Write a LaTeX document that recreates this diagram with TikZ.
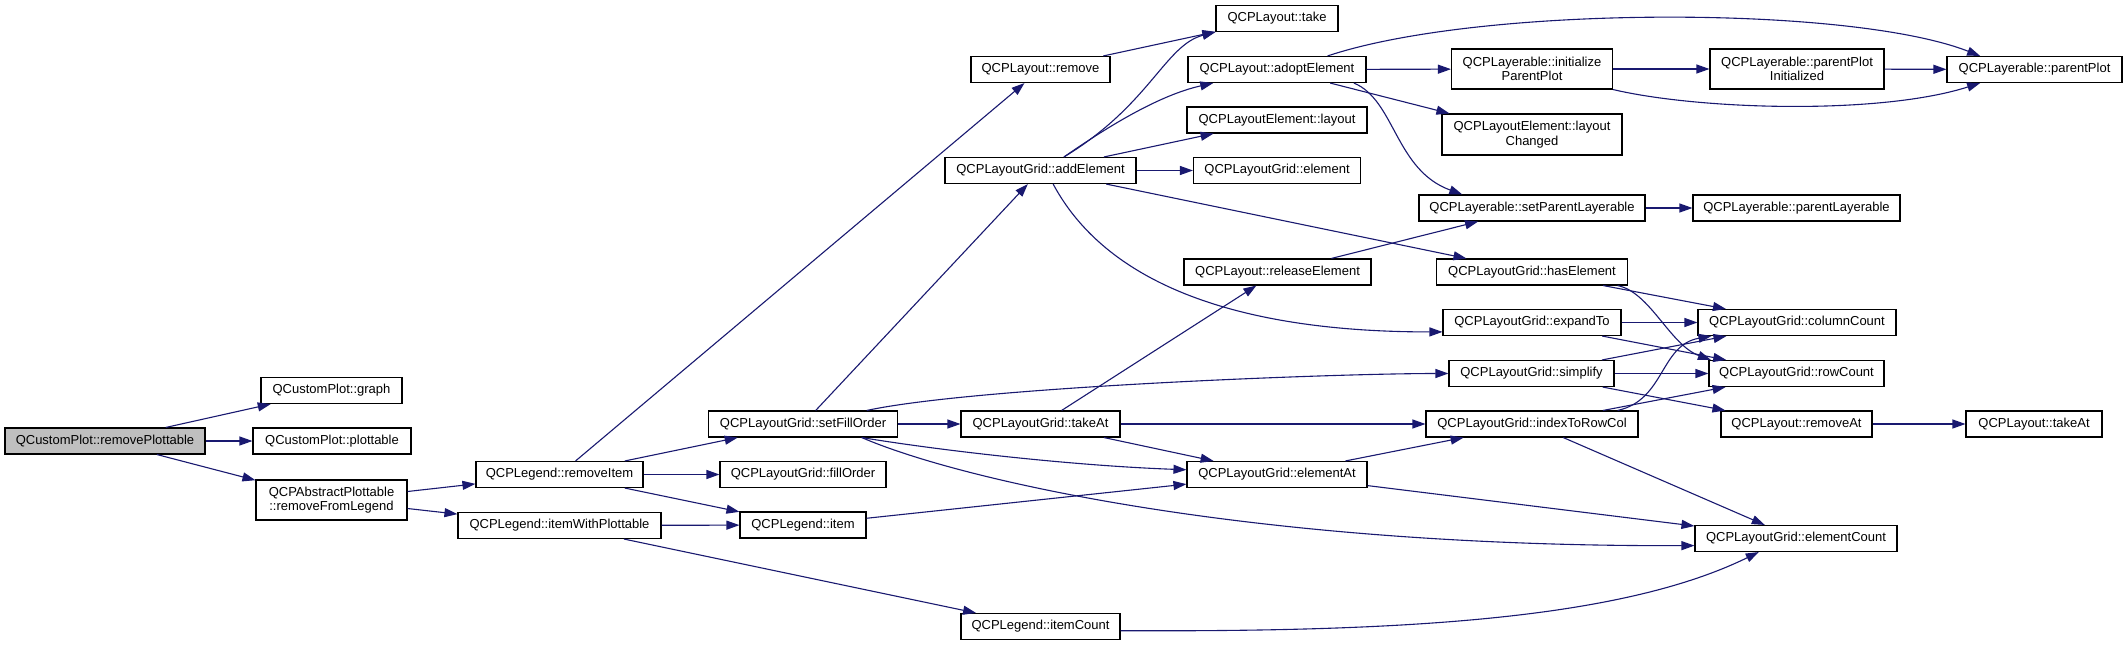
\documentclass[tikz,border=0pt]{standalone}
\usepackage{fontspec}
\setmainfont{Liberation Sans}
\usetikzlibrary{arrows.meta}
\definecolor{navyblue}{RGB}{25,25,112}
\tikzset{
  fn/.style={rectangle, draw=black, fill=white, line width=1.1pt, minimum height=26pt, inner sep=2pt, align=center, font=\fontsize{13}{14.7}\selectfont},
  fnroot/.style={fn, fill=black!25},
  call/.style={draw=navyblue, line width=1.1pt, -{Triangle[length=13pt,width=9pt]}}
}
\begin{document}
\begin{tikzpicture}[x=1pt, y=-1pt]
        \path [use as bounding box, fill=white] (0,0) rectangle (2127,645);

        % first columns
        \node (rmplot) [fnroot, minimum width=200pt] at (105,441) {QCustomPlot::removePlottable};
        \node (graph) [fn, minimum width=141pt] at (331.5,390.5) {QCustomPlot::graph};
        \node (plottable) [fn, minimum width=158pt] at (332,441) {QCustomPlot::plottable};
        \node (rmlegend) [fn, minimum width=151pt, minimum height=40pt] at (331.5,500) {QCPAbstractPlottable\\::removeFromLegend};
        \node (rmitem) [fn, minimum width=167pt] at (559.5,474.5) {QCPLegend::removeItem};
        \node (itemwp) [fn, minimum width=203pt] at (559.5,525.5) {QCPLegend::itemWithPlottable};
        \node (setfill) [fn, minimum width=189pt] at (803,424) {QCPLayoutGrid::setFillOrder};
        \node (fillorder) [fn, minimum width=166pt] at (803,474.5) {QCPLayoutGrid::fillOrder};
        \node (item) [fn, minimum width=126pt] at (803,525) {QCPLegend::item};

        % middle columns
        \node (remove) [fn, minimum width=139pt] at (1040.5,69.5) {QCPLayout::remove};
        \node (addel) [fn, minimum width=191pt] at (1040.5,170.5) {QCPLayoutGrid::addElement};
        \node (takeatg) [fn, minimum width=159pt] at (1040.5,424) {QCPLayoutGrid::takeAt};
        \node (itemcount) [fn, minimum width=159pt] at (1040.5,626.5) {QCPLegend::itemCount};
        \node (take) [fn, minimum width=122pt] at (1277,18.5) {QCPLayout::take};
        \node (adopt) [fn, minimum width=178pt] at (1277,69.5) {QCPLayout::adoptElement};
        \node (layout) [fn, minimum width=180pt] at (1277,120) {QCPLayoutElement::layout};
        \node (element) [fn, minimum width=167pt] at (1277,170.5) {QCPLayoutGrid::element};
        \node (release) [fn, minimum width=187pt] at (1277.5,272) {QCPLayout::releaseElement};
        \node (elemat) [fn, minimum width=180pt] at (1277,474.5) {QCPLayoutGrid::elementAt};

        % right columns
        \node (initpp) [fn, minimum width=161pt, minimum height=40pt] at (1532,69) {QCPLayerable::initialize\\ParentPlot};
        \node (laychg) [fn, minimum width=180pt, minimum height=41pt] at (1532,134.5) {QCPLayoutElement::layout\\Changed};
        \node (setparent) [fn, minimum width=226pt] at (1532,208) {QCPLayerable::setParentLayerable};
        \node (haselem) [fn, minimum width=191pt] at (1532,272) {QCPLayoutGrid::hasElement};
        \node (expand) [fn, minimum width=178pt] at (1532,322.5) {QCPLayoutGrid::expandTo};
        \node (simplify) [fn, minimum width=165pt] at (1531.5,373.5) {QCPLayoutGrid::simplify};
        \node (idx) [fn, minimum width=212pt] at (1532,424) {QCPLayoutGrid::indexToRowCol};
        \node (ppinit) [fn, minimum width=174pt, minimum height=40pt] at (1797,69) {QCPLayerable::parentPlot\\Initialized};
        \node (parentlay) [fn, minimum width=207pt] at (1796.5,208) {QCPLayerable::parentLayerable};
        \node (colcount) [fn, minimum width=198pt] at (1797,322.5) {QCPLayoutGrid::columnCount};
        \node (rowcount) [fn, minimum width=175pt] at (1796.5,373.5) {QCPLayoutGrid::rowCount};
        \node (removeat) [fn, minimum width=151pt] at (1796.5,424) {QCPLayout::removeAt};
        \node (elemcount) [fn, minimum width=202pt] at (1796,538.5) {QCPLayoutGrid::elementCount};
        \node (parentplot) [fn, minimum width=175pt] at (2034.5,69.5) {QCPLayerable::parentPlot};
        \node (takeat) [fn, minimum width=136pt] at (2034,424) {QCPLayout::takeAt};

        % calls, straight
        \draw [call] (rmplot) -- (graph);
        \draw [call] (rmplot) -- (plottable);
        \draw [call] (rmplot) -- (rmlegend);
        \draw [call] (rmlegend) -- (rmitem);
        \draw [call] (rmlegend) -- (itemwp);
        \draw [call] (rmitem) -- (remove);
        \draw [call] (rmitem) -- (setfill);
        \draw [call] (rmitem) -- (fillorder);
        \draw [call] (rmitem) -- (item);
        \draw [call] (itemwp) -- (item);
        \draw [call] (itemwp) -- (itemcount);
        \draw [call] (setfill) -- (addel);
        \draw [call] (setfill) -- (takeatg);
        \draw [call] (item) -- (elemat);
        \draw [call] (remove) -- (take);
        \draw [call] (addel) -- (layout);
        \draw [call] (addel) -- (element);
        \draw [call] (addel) -- (haselem);
        \draw [call] (takeatg) -- (release);
        \draw [call] (takeatg) -- (idx);
        \draw [call] (takeatg) -- (elemat);
        \draw [call] (adopt) -- (initpp);
        \draw [call] (adopt) -- (laychg);
        \draw [call] (release) -- (setparent);
        \draw [call] (elemat) -- (idx);
        \draw [call] (elemat) -- (elemcount);
        \draw [call] (initpp) -- (ppinit);
        \draw [call] (ppinit) -- (parentplot);
        \draw [call] (setparent) -- (parentlay);
        \draw [call] (haselem) -- (colcount);
        \draw [call] (expand) -- (colcount);
        \draw [call] (expand) -- (rowcount);
        \draw [call] (simplify) -- (colcount);
        \draw [call] (simplify) -- (rowcount);
        \draw [call] (simplify) -- (removeat);
        \draw [call] (idx) -- (rowcount);
        \draw [call] (idx) -- (elemcount);
        \draw [call] (removeat) -- (takeat);

        % calls, curved
        \draw [call] (setfill.12) .. controls (976,387) and (1334,373.5) .. (simplify.west);
        \draw [call] (setfill.-13) .. controls (950,452) and (1080,466) .. (elemat.177);
        \draw [call] (setfill.-13) .. controls (960,480) and (1250,547) .. (elemcount.184);
        \draw [call] (addel.30) .. controls (1150,105) and (1165,45) .. (take.south west);
        \draw [call] (addel.30) .. controls (1110,125) and (1160,95) .. (adopt.192);
        \draw [call] (addel.-47) .. controls (1110,290) and (1250,332) .. (expand.186);
        \draw [call] (adopt.15) .. controls (1480,5) and (1850,5) .. (parentplot.166);
        \draw [call] (adopt.-10) .. controls (1395,100) and (1395,170) .. (setparent.169);
        \draw [call] (initpp.south east) .. controls (1700,110) and (1880,115) .. (parentplot.194);
        \draw [call] (haselem.-9) .. controls (1650,292) and (1670,345) .. (rowcount.171);
        \draw [call] (idx.9) .. controls (1665,400) and (1660,345) .. (colcount.189);
        \draw [call] (itemcount.-3) .. controls (1400,632) and (1620,620) .. (elemcount.-160);
\end{tikzpicture}
\end{document}
